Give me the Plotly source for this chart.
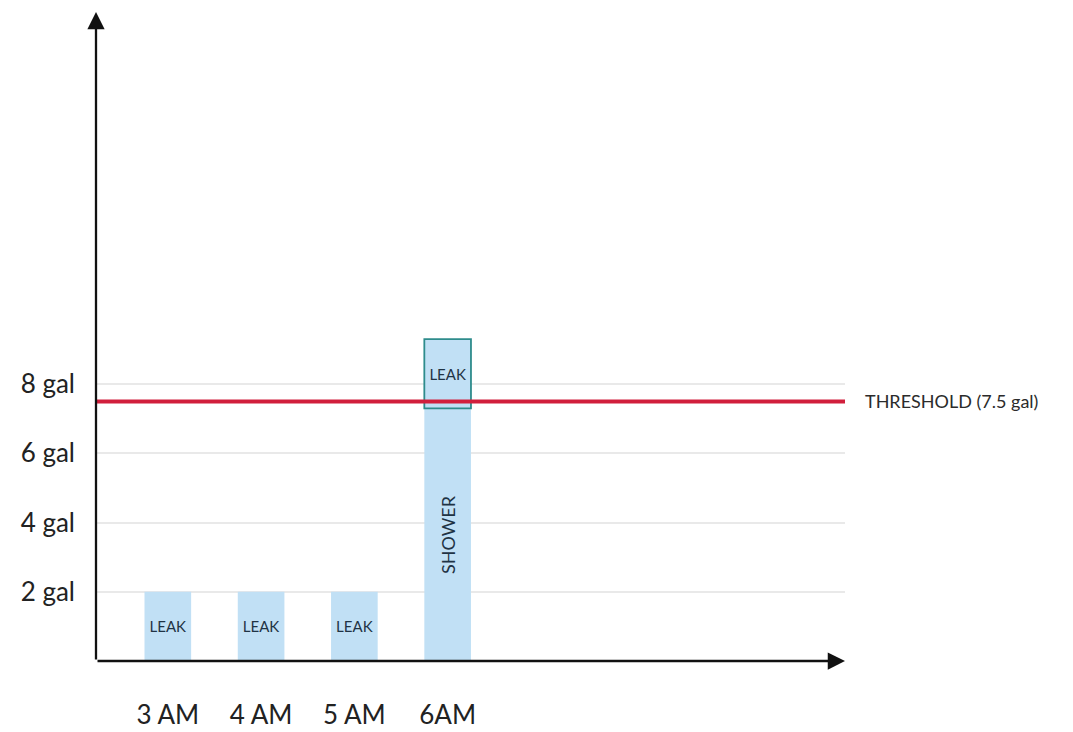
import plotly.graph_objects as go

# Hourly water use, in gallons
hours = ["3 AM", "4 AM", "5 AM", "6AM"]
shower_gal = [0, 0, 0, 7.3]
leak_gal = [2, 2, 2, 2]
threshold_gal = 7.5
gal_ticks = [2, 4, 6, 8]
gal_labels = [f"{v} gal" for v in gal_ticks]

FONT = "Lato, 'Open Sans', sans-serif"
BAR_BLUE = "#c1e0f5"
pos = list(range(len(hours)))

X0, X1 = -0.77, 7.26
Y0, Y1 = 0, 18.75

fig = go.Figure()

# Shower usage (only at 6AM)
fig.add_trace(go.Bar(
    x=pos, y=shower_gal, width=0.5,
    marker=dict(color=BAR_BLUE, line=dict(width=0)),
    text=["" if v == 0 else "SHOWER" for v in shower_gal],
    textposition="inside", insidetextanchor="middle", textangle=-90,
    textfont=dict(family=FONT, size=18, color="#1f3344"),
    hoverinfo="skip",
))

# Leak usage, stacked on top of any shower
fig.add_trace(go.Bar(
    x=pos, y=leak_gal, base=shower_gal, width=0.5,
    marker=dict(
        color=BAR_BLUE,
        line=dict(width=1.8, color=["rgba(0,0,0,0)" if s == 0 else "#2e8c8c" for s in shower_gal]),
    ),
    text=["LEAK"] * len(hours),
    textposition="inside", insidetextanchor="middle", textangle=0,
    textfont=dict(family=FONT, size=15, color="#1f3344"),
    hoverinfo="skip",
))

# Threshold line and its label
fig.add_shape(type="line", xref="x", yref="y", x0=X0, x1=X1 + 0.03,
              y0=threshold_gal, y1=threshold_gal,
              line=dict(color="#d11f3c", width=4), layer="above")
fig.add_annotation(x=X1, y=threshold_gal, xref="x", yref="y",
                   text=f"THRESHOLD ({threshold_gal} gal)", showarrow=False,
                   xanchor="left", xshift=18,
                   font=dict(family=FONT, size=18, color="#2b2b2b"))

# Axis arrows
fig.add_annotation(x=X0, y=Y1, ax=X0, ay=Y0, xref="x", yref="y",
                   axref="x", ayref="y", text="", showarrow=True,
                   arrowhead=2, arrowsize=1.5, arrowwidth=2.3, arrowcolor="#111")
fig.add_annotation(x=X1, y=Y0, ax=X0, ay=Y0, xref="x", yref="y",
                   axref="x", ayref="y", text="", showarrow=True,
                   arrowhead=2, arrowsize=1.5, arrowwidth=2.3, arrowcolor="#111")

fig.update_layout(
    width=1073, height=732,
    margin=dict(l=96, r=228, t=12, b=71),
    paper_bgcolor="white", plot_bgcolor="white",
    barmode="overlay", showlegend=False,
    font=dict(family=FONT, color="#222"),
    xaxis=dict(range=[X0, X1], tickvals=pos, ticktext=hours,
               showgrid=False, zeroline=False, showline=False, ticks="",
               automargin=False, ticklabelstandoff=36,
               tickfont=dict(family=FONT, size=26, color="#222")),
    yaxis=dict(range=[Y0, Y1], tickvals=gal_ticks, ticktext=gal_labels,
               showgrid=True, gridcolor="#e9e9e9", gridwidth=1.5,
               zeroline=False, showline=False, ticks="",
               automargin=False, ticklabelstandoff=20,
               tickfont=dict(family=FONT, size=26, color="#222")),
)

fig.write_html("out.html")
